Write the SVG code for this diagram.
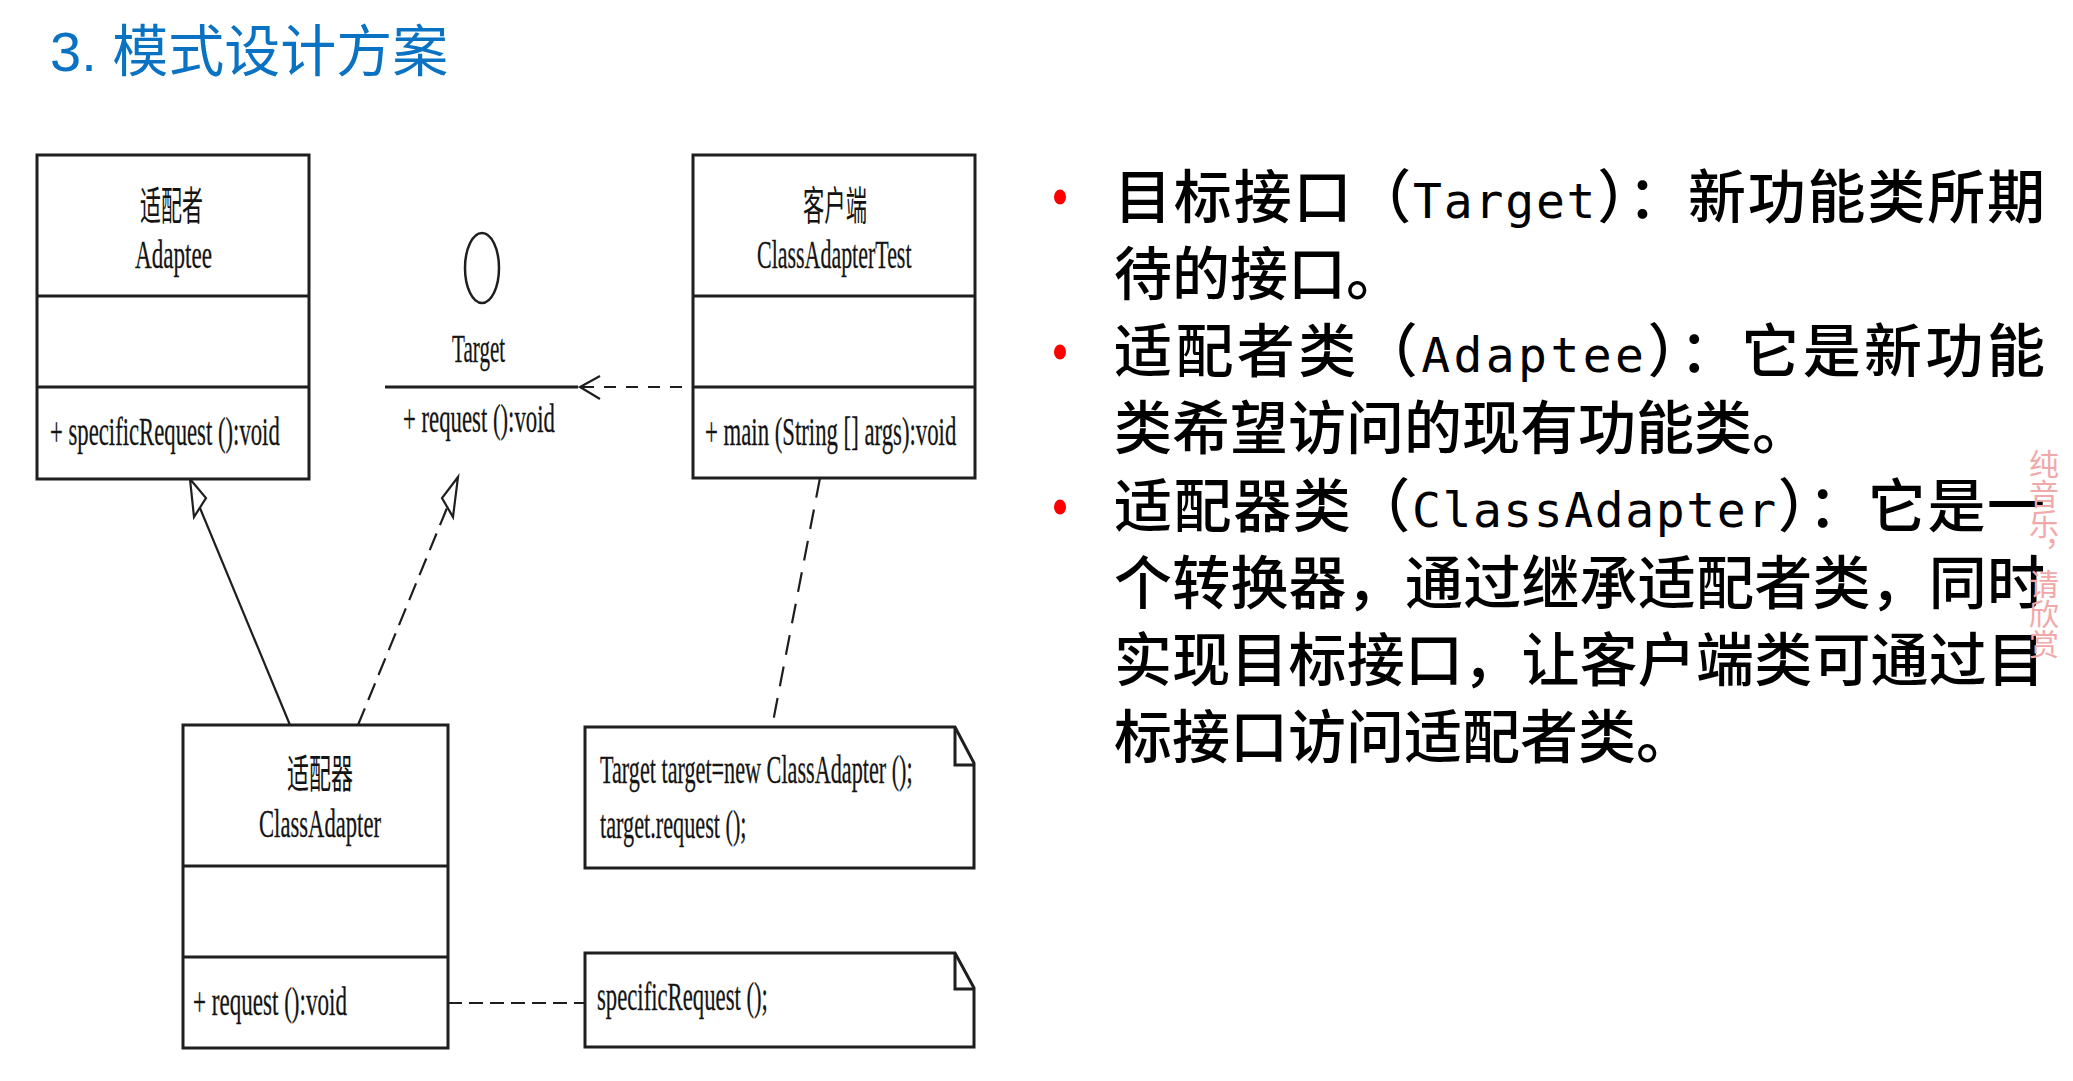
<svg xmlns="http://www.w3.org/2000/svg" width="2073" height="1081" viewBox="0 0 2073 1081">
<style>
.bg{fill:#ffffff}
.title{font-family:"Noto Sans CJK SC",sans-serif;font-size:56px;fill:#0A72C2}
.box{fill:#ffffff;stroke:#1e1e1e;stroke-width:3}
.sep{stroke:#1e1e1e;stroke-width:3;fill:none}
.t{font-family:"Liberation Serif","Noto Sans CJK SC",serif;font-size:40px;fill:#141414;stroke:#141414;stroke-width:0.3}
.c{font-family:"Noto Sans CJK SC",sans-serif;font-size:40px;fill:#141414}
.conn{stroke:#1e1e1e;stroke-width:2.2;fill:none}
.head{stroke:#1e1e1e;stroke-width:2.2;fill:#ffffff;stroke-linejoin:miter}
.body{font-family:"Noto Sans CJK SC",sans-serif;font-size:58px;font-weight:500;fill:#000000}
.lat{font-family:"DejaVu Sans Mono",monospace;font-size:48px;font-weight:normal}
.bullet{fill:#FF0000}
.wm{font-family:"Noto Sans CJK SC",sans-serif;font-size:30px;fill:#F2A8A8;writing-mode:vertical-rl}
</style>
<rect class="bg" x="0" y="0" width="2073" height="1081"/>

<text class="title" x="50" y="71"><tspan font-family="Liberation Sans, sans-serif">3. </tspan>模式设计方案</text>

<g id="connectors">
  <!-- generalization ClassAdapter -> Adaptee -->
  <line class="conn" x1="290" y1="725" x2="200" y2="508"/>
  <polygon class="head" points="190,479 206,498 194,517"/>
  <!-- realization ClassAdapter -> Target -->
  <line class="conn" x1="358" y1="725" x2="447" y2="508" stroke-dasharray="18 9"/>
  <polygon class="head" points="458,477 442,498 453,517"/>
  <!-- dependency Client -> Target -->
  <line class="conn" x1="582" y1="387" x2="693" y2="387" stroke-dasharray="12 10"/>
  <polyline class="conn" points="600,376 580,387 600,399"/>
  <!-- note links -->
  <line class="conn" x1="820" y1="478" x2="772" y2="727" stroke-dasharray="20 12"/>
  <line class="conn" x1="448" y1="1003" x2="585" y2="1003" stroke-dasharray="14 7"/>
</g>

<g id="adaptee">
  <rect class="box" x="37" y="155" width="272" height="324"/>
  <line class="sep" x1="37" y1="296" x2="309" y2="296"/>
  <line class="sep" x1="37" y1="387" x2="309" y2="387"/>
  <text class="c" transform="translate(140,220) scale(0.525,1)">适配者</text>
  <text class="t" transform="translate(135,268) scale(0.578,1)">Adaptee</text>
  <text class="t" transform="translate(50,445) scale(0.568,1)">+ specificRequest ():void</text>
</g>

<g id="target">
  <ellipse cx="482" cy="268" rx="17" ry="35" fill="none" stroke="#1e1e1e" stroke-width="2.5"/>
  <text class="t" transform="translate(452,362) scale(0.527,1)">Target</text>
  <line class="sep" x1="385" y1="387" x2="578" y2="387"/>
  <text class="t" transform="translate(403,432) scale(0.569,1)">+ request ():void</text>
</g>

<g id="client">
  <rect class="box" x="693" y="155" width="282" height="323"/>
  <line class="sep" x1="693" y1="296" x2="975" y2="296"/>
  <line class="sep" x1="693" y1="387" x2="975" y2="387"/>
  <text class="c" transform="translate(803,220) scale(0.533,1)">客户端</text>
  <text class="t" transform="translate(757,268) scale(0.549,1)">ClassAdapterTest</text>
  <text class="t" transform="translate(705,445) scale(0.569,1)">+ main (String [] args):void</text>
</g>

<g id="classadapter">
  <rect class="box" x="183" y="725" width="265" height="323"/>
  <line class="sep" x1="183" y1="866" x2="448" y2="866"/>
  <line class="sep" x1="183" y1="957" x2="448" y2="957"/>
  <text class="c" transform="translate(287,788) scale(0.55,1)">适配器</text>
  <text class="t" transform="translate(259,837) scale(0.566,1)">ClassAdapter</text>
  <text class="t" transform="translate(193,1015) scale(0.577,1)">+ request ():void</text>
</g>

<g id="note-client">
  <path class="box" d="M585,727 H955 L974,763 V868 H585 Z"/>
  <path class="sep" d="M955,727 V765 H974"/>
  <text class="t" transform="translate(600,783) scale(0.555,1)">Target target=new ClassAdapter ();</text>
  <text class="t" transform="translate(600,838) scale(0.556,1)">target.request ();</text>
</g>

<g id="note-adapter">
  <path class="box" d="M585,953 H955 L974,988 V1047 H585 Z"/>
  <path class="sep" d="M955,953 V989 H974"/>
  <text class="t" transform="translate(597,1010) scale(0.568,1)">specificRequest ();</text>
</g>

<g id="description">
  <ellipse class="bullet" cx="1060" cy="197" rx="6" ry="7.5"/>
  <ellipse class="bullet" cx="1060" cy="352" rx="6" ry="7.5"/>
  <ellipse class="bullet" cx="1060" cy="507" rx="6" ry="7.5"/>
  <text class="body" x="1114" y="218" textLength="931" lengthAdjust="spacing">目标接口（<tspan class="lat">Target</tspan>）：新功能类所期</text>
  <text class="body" x="1114" y="295">待的接口。</text>
  <text class="body" x="1114" y="372" textLength="931" lengthAdjust="spacing">适配者类（<tspan class="lat">Adaptee</tspan>）：它是新功能</text>
  <text class="body" x="1114" y="449">类希望访问的现有功能类。</text>
  <text class="body" x="1114" y="527" textLength="931" lengthAdjust="spacing">适配器类（<tspan class="lat">ClassAdapter</tspan>）：它是一</text>
  <text class="body" x="1114" y="604" textLength="931" lengthAdjust="spacing">个转换器，通过继承适配者类，同时</text>
  <text class="body" x="1114" y="681" textLength="931" lengthAdjust="spacing">实现目标接口，让客户端类可通过目</text>
  <text class="body" x="1114" y="758">标接口访问适配者类。</text>
</g>

<text class="wm" x="2044" y="449">纯音乐，请欣赏</text>
</svg>
